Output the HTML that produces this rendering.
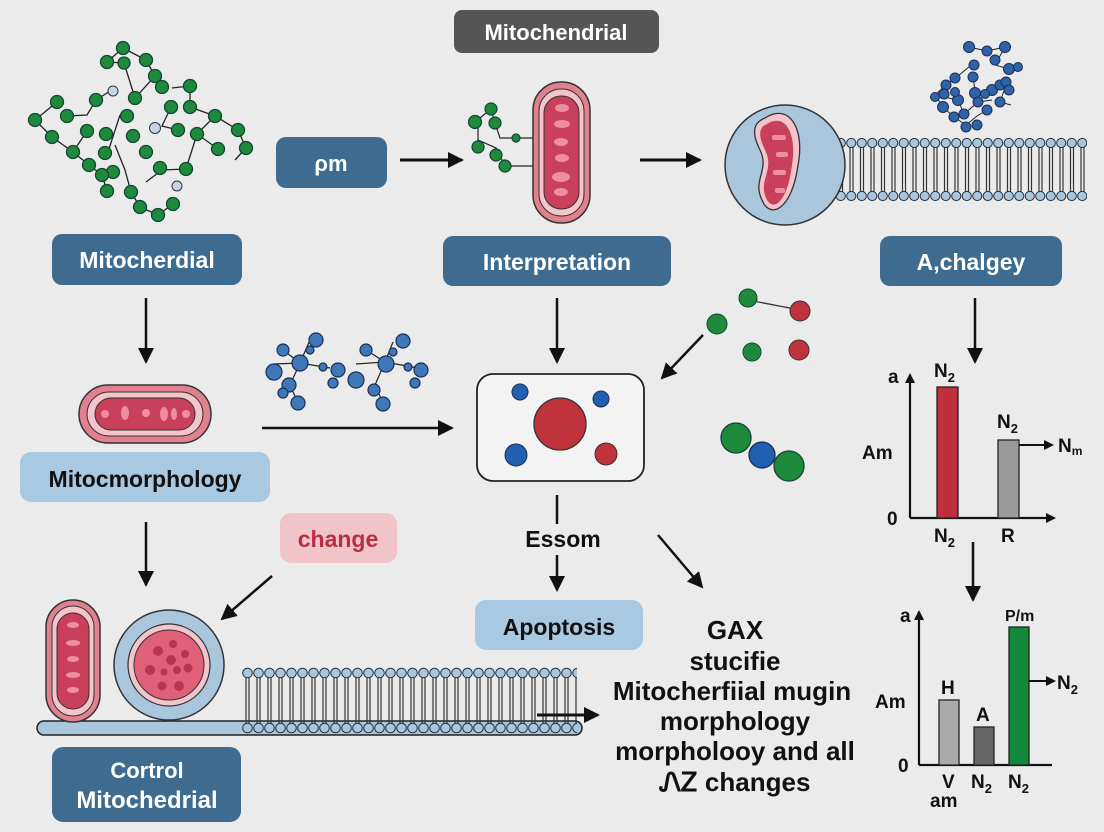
<!DOCTYPE html>
<html><head><meta charset="utf-8"><style>
html,body{margin:0;padding:0;background:#ebebeb;}
svg{display:block;font-family:"Liberation Sans",sans-serif;font-weight:bold;}
</style></head><body>
<svg width="1104" height="832" viewBox="0 0 1104 832" xmlns="http://www.w3.org/2000/svg">
<defs>
<marker id="ah" markerWidth="10" markerHeight="10" refX="8" refY="5" orient="auto" markerUnits="userSpaceOnUse" viewBox="0 0 10 10"><path d="M0,0 L10,5 L0,10 z" fill="#111"/></marker>
<marker id="ah2" markerWidth="16" markerHeight="16" refX="14" refY="8" orient="auto" markerUnits="userSpaceOnUse" viewBox="0 0 16 16"><path d="M0,0 L16,8 L0,16 z" fill="#111"/></marker>
<pattern id="lip" x="825" y="0" width="10.5" height="832" patternUnits="userSpaceOnUse">
<line x1="4" y1="143" x2="4" y2="196" stroke="#333" stroke-width="1.2"/><line x1="7" y1="143" x2="7" y2="196" stroke="#333" stroke-width="1.2"/>
<circle cx="5.25" cy="143" r="4.6" fill="#a9c6dd" stroke="#234" stroke-width="1"/>
<circle cx="5.25" cy="196" r="4.6" fill="#a9c6dd" stroke="#234" stroke-width="1"/>
</pattern>
<pattern id="lip2" x="242" y="0" width="11" height="832" patternUnits="userSpaceOnUse">
<line x1="4" y1="673" x2="4" y2="728" stroke="#333" stroke-width="1.2"/><line x1="7" y1="673" x2="7" y2="728" stroke="#333" stroke-width="1.2"/>
<circle cx="5.5" cy="673" r="4.8" fill="#a9c6dd" stroke="#234" stroke-width="1"/>
<circle cx="5.5" cy="728" r="4.8" fill="#a9c6dd" stroke="#234" stroke-width="1"/>
</pattern>
</defs>
<rect width="1104" height="832" fill="#ebebeb"/>

<rect x="454" y="10" width="205" height="43" rx="8" fill="#555"/>
<text x="556" y="40" font-size="22" fill="#fff" text-anchor="middle">Mitochendrial</text>

<g stroke="#222" stroke-width="1.3" fill="none">
<polyline points="123,48 146,60 155,76 135,98 124,63 107,62 123,48"/>
<polyline points="57,102 35,120 52,137 73,152 89,165 102,175 107,191"/>
<polyline points="67,116 87,115 96,100 115,88"/>
<polyline points="87,131 73,152"/>
<polyline points="115,145 125,170 131,192 140,207 158,215 173,204"/>
<polyline points="107,155 120,115"/>
<polyline points="146,182 162,170 186,169 197,134 215,116 238,130 246,148 235,160"/>
<polyline points="197,134 218,149"/>
<polyline points="171,107 162,126 178,130"/>
<polyline points="172,88 190,86 190,107 215,116"/>
</g>
<g fill="#1e8a3c" stroke="#143" stroke-width="1.3">
<circle cx="123" cy="48" r="6.5"/><circle cx="107" cy="62" r="6.5"/><circle cx="146" cy="60" r="6.5"/><circle cx="155" cy="76" r="6.5"/><circle cx="124" cy="63" r="6"/><circle cx="135" cy="98" r="6.5"/><circle cx="96" cy="100" r="6.5"/><circle cx="57" cy="102" r="6.5"/><circle cx="35" cy="120" r="6.5"/><circle cx="52" cy="137" r="6.5"/><circle cx="67" cy="116" r="6.5"/><circle cx="87" cy="131" r="6.5"/><circle cx="73" cy="152" r="6.5"/><circle cx="89" cy="165" r="6.5"/><circle cx="113" cy="172" r="6.5"/><circle cx="102" cy="175" r="6.5"/><circle cx="107" cy="191" r="6.5"/><circle cx="106" cy="134" r="6.5"/><circle cx="105" cy="153" r="6.5"/><circle cx="127" cy="116" r="6.5"/><circle cx="133" cy="136" r="6.5"/><circle cx="146" cy="152" r="6.5"/><circle cx="131" cy="192" r="6.5"/><circle cx="140" cy="207" r="6.5"/><circle cx="158" cy="215" r="6.5"/><circle cx="173" cy="204" r="6.5"/><circle cx="160" cy="168" r="6.5"/><circle cx="186" cy="169" r="6.5"/><circle cx="197" cy="134" r="6.5"/><circle cx="215" cy="116" r="6.5"/><circle cx="218" cy="149" r="6.5"/><circle cx="238" cy="130" r="6.5"/><circle cx="246" cy="148" r="6.5"/><circle cx="171" cy="107" r="6.5"/><circle cx="178" cy="130" r="6.5"/><circle cx="162" cy="87" r="6.5"/><circle cx="190" cy="86" r="6.5"/><circle cx="190" cy="107" r="6.5"/>
</g>
<circle cx="113" cy="91" r="5" fill="#c8d4e6" stroke="#334" stroke-width="1"/>
<circle cx="155" cy="128" r="5.5" fill="#c8d4e6" stroke="#334" stroke-width="1"/>
<circle cx="177" cy="186" r="5" fill="#c8d4e6" stroke="#334" stroke-width="1"/>

<rect x="52" y="234" width="190" height="51" rx="10" fill="#3e6c90"/>
<text x="147" y="268" font-size="23" fill="#fff" text-anchor="middle">Mitocherdial</text>
<rect x="276" y="137" width="111" height="51" rx="10" fill="#3e6c90"/>
<text x="331" y="171" font-size="22" fill="#fff" text-anchor="middle">ρm</text>
<line x1="400" y1="160" x2="462" y2="160" stroke="#111" stroke-width="3" marker-end="url(#ah2)"/>

<g stroke="#222" stroke-width="1.2" fill="none">
<polyline points="475,122 491,109 495,123 500,138 516,138 533,138"/>
<polyline points="478,120 478,140 496,148 505,166 533,166"/>
</g>
<g fill="#1e8a3c" stroke="#143" stroke-width="1.2">
<circle cx="491" cy="109" r="6"/><circle cx="475" cy="122" r="6.5"/><circle cx="495" cy="123" r="6"/><circle cx="478" cy="147" r="6"/><circle cx="496" cy="155" r="6"/><circle cx="505" cy="166" r="6"/><circle cx="516" cy="138" r="4"/>
</g>

<rect x="533" y="82" width="57" height="141" rx="28" fill="#e1808f" stroke="#333" stroke-width="1.5"/>
<rect x="539" y="89" width="45" height="127" rx="22" fill="#f4c4cb" stroke="#333" stroke-width="1"/>
<rect x="544" y="96" width="35" height="113" rx="17" fill="#c8405a" stroke="#333" stroke-width="1"/>
<g fill="#ef8ea0"><ellipse cx="562" cy="108" rx="7" ry="4"/><ellipse cx="562" cy="124" rx="8" ry="4"/><ellipse cx="561" cy="142" rx="7" ry="4"/><ellipse cx="562" cy="158" rx="7" ry="4"/><ellipse cx="561" cy="177" rx="9" ry="5"/><ellipse cx="561" cy="192" rx="7" ry="4"/></g>

<line x1="640" y1="160" x2="700" y2="160" stroke="#111" stroke-width="3" marker-end="url(#ah2)"/>

<rect x="825" y="136" width="262" height="66" fill="url(#lip)"/>
<circle cx="785" cy="165" r="60" fill="#a9c6dd" stroke="#333" stroke-width="1.5"/>
<path d="M765,118 C790,102 805,130 798,165 C792,210 770,220 762,200 C752,180 770,170 760,150 C750,130 755,122 765,118 Z" fill="#f4c4cb" stroke="#333" stroke-width="1.3"/>
<path d="M767,124 C786,112 797,135 792,165 C787,205 772,212 766,198 C758,180 775,170 765,150 C757,133 760,127 767,124 Z" fill="#c8405a"/>
<g fill="#ef8ea0"><rect x="772" y="135" width="14" height="5" rx="2"/><rect x="776" y="152" width="12" height="5" rx="2"/><rect x="773" y="170" width="13" height="5" rx="2"/><rect x="775" y="188" width="10" height="5" rx="2"/></g>

<g stroke="#222" stroke-width="1" fill="none">
<polyline points="969,47 987,51 1005,47 995,65 1009,69 1018,67"/>
<polyline points="970,66 958,76 947,84 935,95 943,107 954,117 966,125 977,116 987,110"/>
<polyline points="973,74 975,93 992,90 1006,85 1000,102 1011,105"/>
<polyline points="944,97 958,100 964,114 978,102 992,100"/>
</g>
<g fill="#2f62a8" stroke="#1a2f55" stroke-width="1">
<circle cx="969" cy="47" r="5.5"/><circle cx="987" cy="51" r="5"/><circle cx="1005" cy="47" r="5.5"/><circle cx="995" cy="60" r="5"/><circle cx="1009" cy="69" r="5.5"/><circle cx="1018" cy="67" r="4.5"/><circle cx="974" cy="65" r="5"/><circle cx="955" cy="78" r="5"/><circle cx="946" cy="85" r="5"/><circle cx="935" cy="97" r="4.5"/><circle cx="943" cy="107" r="5.5"/><circle cx="954" cy="117" r="5"/><circle cx="966" cy="127" r="5"/><circle cx="977" cy="125" r="5"/><circle cx="987" cy="110" r="5"/><circle cx="973" cy="77" r="5"/><circle cx="975" cy="93" r="5.5"/><circle cx="992" cy="90" r="5.5"/><circle cx="1000" cy="85" r="5"/><circle cx="1006" cy="82" r="5"/><circle cx="1000" cy="102" r="5"/><circle cx="1009" cy="90" r="5"/><circle cx="944" cy="94" r="5"/><circle cx="958" cy="100" r="5.5"/><circle cx="964" cy="114" r="5"/><circle cx="978" cy="102" r="5"/><circle cx="985" cy="94" r="4.5"/><circle cx="955" cy="92" r="4.5"/>
</g>

<rect x="443" y="236" width="228" height="50" rx="10" fill="#3e6c90"/>
<text x="557" y="270" font-size="23" fill="#fff" text-anchor="middle">Interpretation</text>
<rect x="880" y="236" width="182" height="50" rx="10" fill="#3e6c90"/>
<text x="971" y="270" font-size="23" fill="#fff" text-anchor="middle">A,chalgey</text>

<line x1="146" y1="298" x2="146" y2="362" stroke="#111" stroke-width="2.5" marker-end="url(#ah2)"/>
<line x1="557" y1="298" x2="557" y2="362" stroke="#111" stroke-width="2.5" marker-end="url(#ah2)"/>
<line x1="975" y1="298" x2="975" y2="362" stroke="#111" stroke-width="2.5" marker-end="url(#ah2)"/>

<rect x="79" y="385" width="132" height="58" rx="29" fill="#e1808f" stroke="#333" stroke-width="1.5"/>
<rect x="87" y="392" width="116" height="44" rx="22" fill="#f4c4cb" stroke="#333" stroke-width="1"/>
<rect x="95" y="398" width="100" height="32" rx="16" fill="#c8405a" stroke="#333" stroke-width="1"/>
<g fill="#ef8ea0"><circle cx="105" cy="414" r="4"/><ellipse cx="125" cy="413" rx="4" ry="7"/><circle cx="146" cy="413" r="4"/><ellipse cx="164" cy="414" rx="4" ry="7"/><ellipse cx="174" cy="414" rx="3" ry="6"/><circle cx="186" cy="414" r="4"/></g>

<g stroke="#222" stroke-width="1.2">
<line x1="274" y1="364" x2="300" y2="363"/><line x1="283" y1="350" x2="300" y2="363"/><line x1="300" y1="363" x2="310" y2="340"/><line x1="300" y1="363" x2="330" y2="368"/><line x1="300" y1="363" x2="290" y2="385"/><line x1="290" y1="385" x2="298" y2="403"/><line x1="274" y1="364" x2="270" y2="380"/>
<line x1="356" y1="364" x2="385" y2="362"/><line x1="385" y1="362" x2="393" y2="342"/><line x1="385" y1="362" x2="418" y2="368"/><line x1="385" y1="362" x2="375" y2="385"/><line x1="375" y1="385" x2="383" y2="403"/><line x1="366" y1="350" x2="385" y2="362"/>
</g>
<g fill="#3e78b8" stroke="#1a2f55" stroke-width="1.2">
<circle cx="274" cy="372" r="8"/><circle cx="283" cy="350" r="6"/><circle cx="300" cy="363" r="8"/><circle cx="316" cy="340" r="7"/><circle cx="310" cy="350" r="4"/><circle cx="323" cy="367" r="4"/><circle cx="338" cy="370" r="7"/><circle cx="333" cy="383" r="5"/><circle cx="289" cy="385" r="7"/><circle cx="298" cy="403" r="7"/><circle cx="283" cy="393" r="5"/>
<circle cx="356" cy="380" r="8"/><circle cx="366" cy="350" r="6"/><circle cx="386" cy="364" r="8"/><circle cx="403" cy="341" r="7"/><circle cx="393" cy="352" r="4"/><circle cx="408" cy="367" r="4"/><circle cx="421" cy="370" r="7"/><circle cx="415" cy="383" r="5"/><circle cx="374" cy="390" r="6"/><circle cx="383" cy="404" r="7"/>
</g>
<line x1="262" y1="428" x2="452" y2="428" stroke="#111" stroke-width="2.5" marker-end="url(#ah2)"/>

<rect x="477" y="374" width="167" height="107" rx="16" fill="#f3f3f3" stroke="#222" stroke-width="1.8"/>
<circle cx="560" cy="424" r="26" fill="#c0333d" stroke="#333" stroke-width="1.3"/>
<circle cx="520" cy="392" r="8" fill="#2060b0" stroke="#1a2f55"/>
<circle cx="601" cy="399" r="8" fill="#2060b0" stroke="#1a2f55"/>
<circle cx="516" cy="455" r="11" fill="#2060b0" stroke="#1a2f55"/>
<circle cx="606" cy="454" r="11" fill="#c0333d" stroke="#333"/>

<line x1="748" y1="300" x2="800" y2="310" stroke="#333" stroke-width="1.3"/>
<circle cx="748" cy="298" r="9" fill="#1e8a3c" stroke="#143"/>
<circle cx="717" cy="324" r="10" fill="#1e8a3c" stroke="#143"/>
<circle cx="800" cy="311" r="10" fill="#c0333d" stroke="#333"/>
<circle cx="752" cy="352" r="9" fill="#1e8a3c" stroke="#143"/>
<circle cx="799" cy="350" r="10" fill="#c0333d" stroke="#333"/>
<line x1="703" y1="335" x2="662" y2="378" stroke="#111" stroke-width="2.5" marker-end="url(#ah2)"/>
<circle cx="736" cy="438" r="15" fill="#1e8a3c" stroke="#143" stroke-width="1.3"/>
<circle cx="789" cy="466" r="15" fill="#1e8a3c" stroke="#143" stroke-width="1.3"/>
<circle cx="762" cy="455" r="13" fill="#2060b0" stroke="#1a2f55" stroke-width="1.3"/>

<rect x="20" y="452" width="250" height="50" rx="11" fill="#a9c8e2"/>
<text x="145" y="487" font-size="23" fill="#111" text-anchor="middle">Mitocmorphology</text>

<line x1="910" y1="518" x2="910" y2="375" stroke="#111" stroke-width="2.2" marker-end="url(#ah)"/>
<line x1="910" y1="518" x2="1054" y2="518" stroke="#111" stroke-width="2.2" marker-end="url(#ah)"/>
<rect x="937" y="387" width="21" height="131" fill="#c0303c" stroke="#222" stroke-width="1.3"/>
<rect x="998" y="440" width="21" height="78" fill="#9a9a9a" stroke="#222" stroke-width="1.3"/>
<line x1="1019" y1="445" x2="1052" y2="445" stroke="#111" stroke-width="2" marker-end="url(#ah)"/>
<g font-size="19" fill="#111">
<text x="888" y="383">a</text><text x="862" y="459">Am</text><text x="887" y="525">0</text>
<text x="934" y="377">N<tspan font-size="13" dy="5">2</tspan></text>
<text x="997" y="428">N<tspan font-size="13" dy="5">2</tspan></text>
<text x="1058" y="452">N<tspan font-size="12" dy="3">m</tspan></text>
<text x="934" y="542">N<tspan font-size="13" dy="5">2</tspan></text>
<text x="1001" y="542">R</text>
</g>
<line x1="973" y1="542" x2="973" y2="600" stroke="#111" stroke-width="2.5" marker-end="url(#ah2)"/>

<line x1="919" y1="765" x2="919" y2="612" stroke="#111" stroke-width="2.2" marker-end="url(#ah)"/>
<line x1="919" y1="765" x2="1052" y2="765" stroke="#111" stroke-width="2.2"/>
<rect x="939" y="700" width="20" height="65" fill="#aaa" stroke="#222" stroke-width="1.3"/>
<rect x="974" y="727" width="20" height="38" fill="#666" stroke="#222" stroke-width="1.3"/>
<rect x="1009" y="627" width="20" height="138" fill="#128a3a" stroke="#222" stroke-width="1.3"/>
<line x1="1029" y1="681" x2="1054" y2="681" stroke="#111" stroke-width="2" marker-end="url(#ah)"/>
<g font-size="19" fill="#111">
<text x="900" y="622">a</text><text x="875" y="708">Am</text><text x="898" y="772">0</text>
<text x="941" y="694">H</text><text x="976" y="721">A</text>
<text x="1005" y="621" font-size="16">P/m</text>
<text x="1057" y="689">N<tspan font-size="13" dy="5">2</tspan></text>
<text x="942" y="788">V</text><text x="930" y="807">am</text>
<text x="971" y="788">N<tspan font-size="13" dy="5">2</tspan></text>
<text x="1008" y="788">N<tspan font-size="13" dy="5">2</tspan></text>
</g>

<line x1="146" y1="522" x2="146" y2="585" stroke="#111" stroke-width="2.5" marker-end="url(#ah2)"/>
<rect x="280" y="513" width="117" height="50" rx="11" fill="#f0c4c9"/>
<text x="338" y="547" font-size="23" fill="#b83040" text-anchor="middle">change</text>
<line x1="272" y1="576" x2="222" y2="619" stroke="#111" stroke-width="2.5" marker-end="url(#ah2)"/>

<line x1="557" y1="495" x2="557" y2="524" stroke="#111" stroke-width="2.5"/>
<text x="563" y="547" font-size="23" fill="#111" text-anchor="middle">Essom</text>
<line x1="557" y1="555" x2="557" y2="590" stroke="#111" stroke-width="2.5" marker-end="url(#ah2)"/>
<line x1="658" y1="535" x2="702" y2="587" stroke="#111" stroke-width="2.5" marker-end="url(#ah2)"/>
<rect x="475" y="600" width="168" height="50" rx="11" fill="#a9c8e2"/>
<text x="559" y="635" font-size="23" fill="#111" text-anchor="middle">Apoptosis</text>

<rect x="37" y="721" width="545" height="14" rx="7" fill="#a9c6dd" stroke="#222" stroke-width="1.5"/>
<rect x="242" y="667" width="335" height="67" fill="url(#lip2)"/>
<rect x="46" y="600" width="54" height="122" rx="27" fill="#e1808f" stroke="#333" stroke-width="1.5"/>
<rect x="52" y="606" width="42" height="110" rx="21" fill="#f4c4cb" stroke="#333" stroke-width="1"/>
<rect x="57" y="613" width="32" height="96" rx="16" fill="#c8405a" stroke="#333" stroke-width="1"/>
<g fill="#ef8ea0"><ellipse cx="73" cy="625" rx="6" ry="3"/><ellipse cx="73" cy="643" rx="7" ry="3"/><ellipse cx="73" cy="659" rx="6" ry="3"/><ellipse cx="73" cy="675" rx="7" ry="3"/><ellipse cx="73" cy="690" rx="6" ry="3"/></g>
<circle cx="169" cy="665" r="55" fill="#a9c6dd" stroke="#333" stroke-width="1.5"/>
<circle cx="169" cy="665" r="41" fill="#f4c4cb" stroke="#333" stroke-width="1.2"/>
<circle cx="169" cy="665" r="35" fill="#e06078" stroke="#333" stroke-width="1"/>
<g fill="#b83550"><circle cx="158" cy="651" r="5"/><circle cx="173" cy="644" r="4"/><circle cx="185" cy="654" r="4"/><circle cx="171" cy="660" r="5"/><circle cx="150" cy="670" r="5"/><circle cx="164" cy="672" r="3.5"/><circle cx="177" cy="670" r="4"/><circle cx="188" cy="668" r="4.5"/><circle cx="162" cy="686" r="4.5"/><circle cx="179" cy="686" r="5"/></g>

<rect x="52" y="747" width="189" height="75" rx="11" fill="#3e6c90"/>
<text x="147" y="778" font-size="22" fill="#fff" text-anchor="middle">Cortrol</text>
<text x="147" y="808" font-size="24" fill="#fff" text-anchor="middle">Mitochedrial</text>

<line x1="537" y1="715" x2="598" y2="715" stroke="#111" stroke-width="3" marker-end="url(#ah2)"/>

<g font-size="26" fill="#111" text-anchor="middle">
<text x="735" y="639">GAX</text>
<text x="735" y="670">stucifie</text>
<text x="732" y="700">Mitocherfiial mugin</text>
<text x="735" y="730">morphology</text>
<text x="735" y="760">morpholooy and all</text>
<text x="735" y="791">ᏁᏃ changes</text>
</g>
</svg>
</body></html>
